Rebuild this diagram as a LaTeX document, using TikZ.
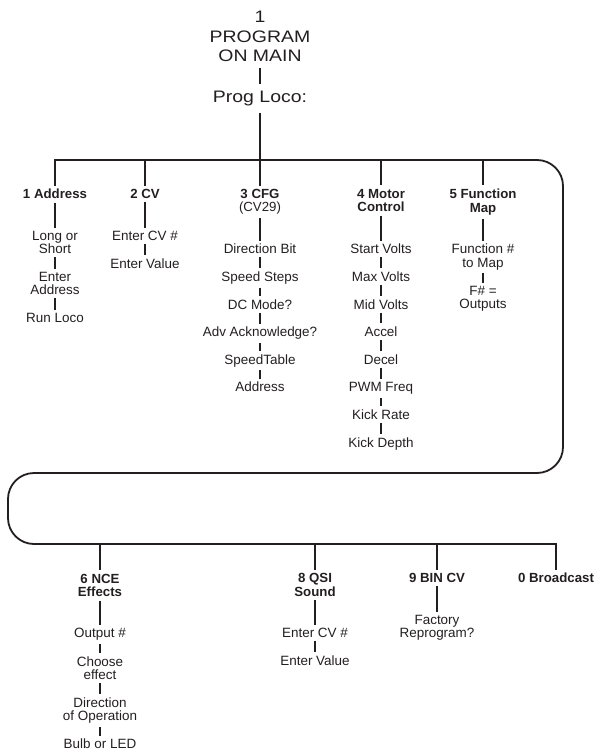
\documentclass[tikz,border=0pt]{standalone}
\usepackage{fontspec}
\setmainfont{Liberation Sans}
\newfontfamily\titlefont[FakeStretch=1.17]{Liberation Sans}
\definecolor{ink}{RGB}{35,31,32}
\tikzset{
  menutop/.style={font=\titlefont\fontsize{16.7}{19.3}\selectfont, align=center, inner xsep=2bp, inner ysep=6.5bp},
  menuhead/.style={font=\bfseries\fontsize{13.3}{13.5}\selectfont, align=center, inner xsep=1bp, inner ysep=3.5bp},
  menuitem/.style={font=\fontsize{13.5}{13.3}\selectfont, align=center, inner xsep=1bp, inner ysep=3.2bp},
  wire/.style={line width=1.8bp}
}
\begin{document}
\begin{tikzpicture}[x=1bp, y=-1bp, color=ink]
            \useasboundingbox (0,0) rectangle (600,754);
            % top of the menu
            \node[menutop] (main) at (260,36.5) {1\\PROGRAM\\ON MAIN};
            \node[menutop] (prog) at (260,98.5) {Prog Loco:};
            % first row of choices
            \node[menuhead] (addr) at (55,194) {1 Address};
            \node[menuhead] (cv) at (145,194) {2 CV};
            \node[menuhead] (cfg) at (260,202) {3 CFG\\{\mdseries (CV29)}};
            \node[menuhead] (motor) at (381,200.5) {4 Motor\\Control};
            \node[menuhead] (fmap) at (483,202) {5 Function\\Map};
            \node[menuitem] (addr1) at (55,242.5) {Long or\\Short};
            \node[menuitem] (addr2) at (55,283.5) {Enter\\Address};
            \node[menuitem] (addr3) at (55,318) {Run Loco};
            \node[menuitem] (cv1) at (145,236) {Enter CV \#};
            \node[menuitem] (cv2) at (145,263.5) {Enter Value};
            \node[menuitem] (cfg1) at (260,249) {Direction Bit};
            \node[menuitem] (cfg2) at (260,278) {Speed Steps};
            \node[menuitem] (cfg3) at (260,304.2) {DC Mode?};
            \node[menuitem] (cfg4) at (260,333.2) {Adv Acknowledge?};
            \node[menuitem] (cfg5) at (260,360.8) {SpeedTable};
            \node[menuitem] (cfg6) at (260,387) {Address};
            \node[menuitem] (motor1) at (381,249) {Start Volts};
            \node[menuitem] (motor2) at (381,276.6) {Max Volts};
            \node[menuitem] (motor3) at (381,304.2) {Mid Volts};
            \node[menuitem] (motor4) at (381,331.8) {Accel};
            \node[menuitem] (motor5) at (381,359.4) {Decel};
            \node[menuitem] (motor6) at (381,388.4) {PWM Freq};
            \node[menuitem] (motor7) at (381,414.6) {Kick Rate};
            \node[menuitem] (motor8) at (381,443.6) {Kick Depth};
            \node[menuitem] (fmap1) at (483,257) {Function \#\\to Map};
            \node[menuitem] (fmap2) at (483,299) {F\# =\\Outputs};
            % second row of choices
            \node[menuhead] (nce) at (100,585.5) {6 NCE\\Effects};
            \node[menuhead] (qsi) at (315,585) {8 QSI\\Sound};
            \node[menuhead] (bin) at (437,578) {9 BIN CV};
            \node[menuhead] (bcast) at (556,578) {0 Broadcast};
            \node[menuitem] (nce1) at (100,634.4) {Output \#};
            \node[menuitem] (nce2) at (100,668) {Choose\\effect};
            \node[menuitem] (nce3) at (100,710.4) {Direction\\of Operation};
            \node[menuitem] (nce4) at (100,744) {Bulb or LED};
            \node[menuitem] (qsi1) at (315,633) {Enter CV \#};
            \node[menuitem] (qsi2) at (315,660.6) {Enter Value};
            \node[menuitem] (bin1) at (437,627.9) {Factory\\Reprogram?};
            % the bus
            \coordinate (b1) at (55,160);
            \coordinate (b2) at (145,160);
            \coordinate (b4) at (381,160);
            \coordinate (b5) at (483,160);
            \coordinate (c1) at (563,160);
            \coordinate (c2) at (563,473);
            \coordinate (c3) at (8,473);
            \coordinate (c4) at (8,544);
            \coordinate (b6) at (100,544);
            \coordinate (b8) at (315,544);
            \coordinate (b9) at (437,544);
            \coordinate (b0) at (556,544);
            \draw[wire, rounded corners=26bp] (b1) -- (c1) -- (c2) -- (c3) -- (c4) -- (b0);
            \draw[wire] (main) -- (prog) -- (cfg);
            \draw[wire, line cap=rect] (b1) -- (addr);
            \draw[wire] (b2) -- (cv);
            \draw[wire] (b4) -- (motor);
            \draw[wire] (b5) -- (fmap);
            \draw[wire] (b6) -- (nce);
            \draw[wire] (b8) -- (qsi);
            \draw[wire] (b9) -- (bin);
            \draw[wire, line cap=rect] (b0) -- (bcast);
            % the chains
            \draw[wire] (addr) -- (addr1) -- (addr2) -- (addr3);
            \draw[wire] (cv) -- (cv1) -- (cv2);
            \draw[wire] (cfg) -- (cfg1) -- (cfg2) -- (cfg3) -- (cfg4) -- (cfg5) -- (cfg6);
            \draw[wire] (motor) -- (motor1) -- (motor2) -- (motor3) -- (motor4) -- (motor5) -- (motor6) -- (motor7) -- (motor8);
            \draw[wire] (fmap) -- (fmap1) -- (fmap2);
            \draw[wire] (nce) -- (nce1) -- (nce2) -- (nce3) -- (nce4);
            \draw[wire] (qsi) -- (qsi1) -- (qsi2);
            \draw[wire] (bin) -- (bin1);
        \end{tikzpicture}
\end{document}
